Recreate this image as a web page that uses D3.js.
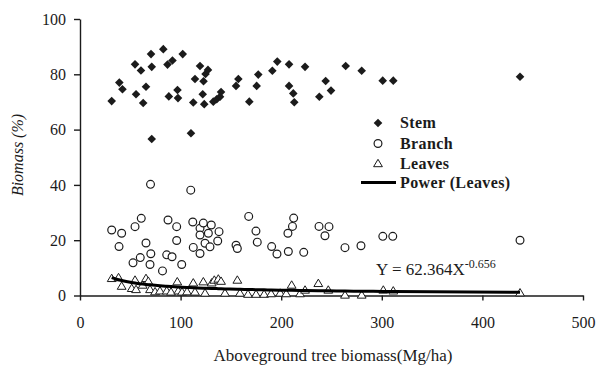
<!DOCTYPE html>
<html>
<head>
<meta charset="utf-8">
<script src="https://cdn.jsdelivr.net/npm/d3@7"></script>
<style>
  html, body { margin: 0; padding: 0; background: #fff; }
  svg { display: block; }
  svg text { font-family: "Liberation Serif", "Times New Roman", serif; }
</style>
</head>
<body>
<svg id="chart" width="599" height="367"></svg>
<script>
// ── Data ──────────────────────────────────────────────────────────────────────

const stemX = [31.5, 39.1, 42.2, 54.7, 55.7, 60.6, 62.8, 65.6, 70.6, 71.3, 71.3, 82.8, 87.0, 91.9, 88.3,
  96.9, 97.4, 102.1, 110.3, 112.6, 119.3, 114.3, 122.0, 123.5, 124.8, 122.8, 127.2, 132.5, 135.9, 139.2,
  140.2, 157.4, 155.1, 168.3, 177.2, 175.6, 191.2, 196.1, 207.8, 207.8, 212.0, 213.0, 223.7, 244.2, 249.5,
  237.9, 264.1, 280.0, 300.9, 311.4, 437.4];
const stemY = [70.3, 77.0, 74.6, 83.6, 72.8, 81.4, 69.6, 75.5, 87.3, 82.7, 56.6, 89.1, 83.5, 85.0, 72.0,
  74.3, 71.4, 87.3, 58.7, 69.8, 83.0, 78.3, 72.8, 69.2, 80.1, 77.5, 81.6, 70.1, 71.0, 71.9,
  73.6, 78.3, 75.8, 70.1, 79.9, 75.8, 81.3, 84.6, 83.6, 75.8, 73.1, 69.9, 82.7, 77.6, 74.1,
  71.9, 83.0, 81.3, 77.7, 77.7, 79.1];

const branchX = [31.5, 38.8, 41.4, 52.7, 54.7, 59.9, 60.9, 65.6, 70.1, 70.4, 69.6, 82.0, 86.2, 87.5, 91.5,
  96.1, 96.1, 101.1, 110.1, 112.1, 112.6, 119.3, 119.3, 122.6, 119.3, 127.6, 130.5, 138.2, 124.3, 136.9,
  129.2, 155.1, 156.4, 167.7, 174.9, 176.2, 190.5, 195.8, 207.1, 212.4, 211.2, 206.7, 222.4, 237.6, 247.5,
  243.5, 263.4, 279.3, 301.0, 310.9, 437.4];
const branchY = [23.7, 17.7, 22.5, 11.8, 24.9, 13.7, 27.9, 19.0, 40.2, 15.1, 11.2, 8.9, 14.7, 27.3, 14.0,
  24.9, 19.9, 11.2, 38.1, 26.6, 17.4, 24.3, 15.2, 26.2, 21.9, 22.5, 25.5, 23.1, 18.9, 19.7,
  17.6, 18.2, 17.0, 28.6, 23.3, 19.3, 17.7, 15.0, 15.9, 28.0, 25.0, 22.5, 15.6, 25.0, 24.9,
  21.6, 17.3, 18.0, 21.4, 21.4, 20.0];

const leavesX = [31.5, 38.3, 41.4, 51.4, 54.7, 55.7, 62.3, 65.6, 67.9, 69.6, 74.6, 79.5, 86.2, 90.5, 96.7,
  97.7, 101.4, 106.4, 112.6, 114.3, 122.6, 124.3, 130.9, 133.5, 137.5, 140.2, 144.1, 156.4, 159.0, 167.0,
  175.0, 183.0, 190.0, 199.0, 205.0, 210.4, 218.7, 223.7, 236.9, 246.8, 263.4, 280.0, 301.5, 311.4, 437.4];
const leavesY = [6.2, 6.5, 3.4, 2.6, 5.6, 2.2, 3.8, 6.2, 5.2, 2.2, 1.4, 1.7, 1.7, 1.3, 5.0,
  1.7, 1.3, 1.4, 4.6, 1.3, 5.0, 0.9, 4.6, 5.6, 6.0, 5.2, 0.9, 5.6, 0.9, 0.5,
  0.5, 0.5, 0.7, 0.9, 0.7, 3.8, 0.7, 2.0, 4.4, 2.0, 0.2, 0.2, 2.0, 1.7, 1.0];

// power trend from the equation printed on the chart
const trendA = 62.364;
const trendB = -0.656;

const xTicks = [0, 100, 200, 300, 400, 500];
const yTicks = [0, 20, 40, 60, 80, 100];

const legendItems = ["Stem", "Branch", "Leaves", "Power (Leaves)"];

// ── Chart ─────────────────────────────────────────────────────────────────────

const svg = d3.select("#chart");
const serif = "'Liberation Serif', 'Times New Roman', serif";

const x = d3.scaleLinear().domain([0, 500]).range([80, 583]);
const y = d3.scaleLinear().domain([0, 100]).range([295.5, 19]);

const ink = "#1b1b1b";
const diamond = "M0,-4.3L4.3,0L0,4.3L-4.3,0Z";
const triangle = "M0,-4.2L4.4,3.2L-4.4,3.2Z";

// axes
const xAxis = svg.append("g")
  .attr("transform", `translate(0,${y(0)})`)
  .call(d3.axisBottom(x).tickValues(xTicks).tickSize(5).tickSizeOuter(0).tickPadding(16));

const yAxis = svg.append("g")
  .attr("transform", `translate(${x(0)},0)`)
  .call(d3.axisLeft(y).tickValues(yTicks).tickSize(6).tickSizeOuter(0).tickPadding(8));

[xAxis, yAxis].forEach((g) => {
  g.attr("font-family", serif).attr("font-size", 16);
  g.select(".domain").attr("stroke", ink).attr("stroke-width", 1.4);
  g.selectAll(".tick line").attr("stroke", ink).attr("stroke-width", 1.4);
  g.selectAll(".tick text").attr("fill", ink);
});

// branch circles
svg.append("g").selectAll("circle")
  .data(branchX.map((d, i) => [d, branchY[i]]))
  .join("circle")
  .attr("cx", (d) => x(d[0]))
  .attr("cy", (d) => y(d[1]))
  .attr("r", 3.9)
  .attr("fill", "#fff")
  .attr("stroke", ink)
  .attr("stroke-width", 1.2);

// leaves triangles
svg.append("g").selectAll("path")
  .data(leavesX.map((d, i) => [d, leavesY[i]]))
  .join("path")
  .attr("d", triangle)
  .attr("transform", (d) => `translate(${x(d[0])},${y(d[1])})`)
  .attr("fill", "#fff")
  .attr("stroke", ink)
  .attr("stroke-width", 1);

// trend line
const trendPts = leavesX.slice().sort((a, b) => a - b)
  .map((v) => [v, trendA * Math.pow(v, trendB)]);
svg.append("path")
  .datum(trendPts)
  .attr("fill", "none")
  .attr("stroke", "#000")
  .attr("stroke-width", 3)
  .attr("d", d3.line().x((d) => x(d[0])).y((d) => y(d[1])).curve(d3.curveMonotoneX));

// stem diamonds
svg.append("g").selectAll("path")
  .data(stemX.map((d, i) => [d, stemY[i]]))
  .join("path")
  .attr("d", diamond)
  .attr("transform", (d) => `translate(${x(d[0])},${y(d[1])})`)
  .attr("fill", ink);

// equation
const eq = svg.append("text")
  .attr("x", 376)
  .attr("y", 275)
  .attr("fill", ink)
  .attr("font-family", serif)
  .attr("font-size", 17);
eq.append("tspan").text(`Y = ${trendA}X`);
eq.append("tspan").attr("dy", -7).attr("font-size", 12).text(String(trendB));

// legend
const legend = svg.append("g").attr("transform", "translate(378,123)");
legendItems.forEach((name, i) => {
  const row = legend.append("g").attr("transform", `translate(0,${[0, 20.5, 40.5, 59.5][i]})`);
  if (i === 0) row.append("path").attr("d", diamond).attr("fill", ink);
  if (i === 1) row.append("circle").attr("r", 3.9).attr("fill", "#fff").attr("stroke", ink).attr("stroke-width", 1.2);
  if (i === 2) row.append("path").attr("d", triangle).attr("fill", "#fff").attr("stroke", ink);
  if (i === 3) row.append("line").attr("x1", -17).attr("x2", 18).attr("stroke", "#000").attr("stroke-width", 3);
  row.append("text")
    .attr("x", 22)
    .attr("dy", "0.33em")
    .attr("fill", ink)
    .attr("font-family", serif)
    .attr("font-weight", "bold")
    .attr("font-size", 16)
    .attr("letter-spacing", 0.4)
    .text(name);
});

// axis titles
svg.append("text")
  .attr("x", 333)
  .attr("y", 361)
  .attr("text-anchor", "middle")
  .attr("fill", ink)
  .attr("font-family", serif)
  .attr("font-size", 17)
  .text("Aboveground tree biomass(Mg/ha)");

svg.append("text")
  .attr("transform", "translate(23,155) rotate(-90)")
  .attr("text-anchor", "middle")
  .attr("fill", ink)
  .attr("font-family", serif)
  .attr("font-style", "italic")
  .attr("font-size", 16)
  .text("Biomass (%)");
</script>
</body>
</html>
